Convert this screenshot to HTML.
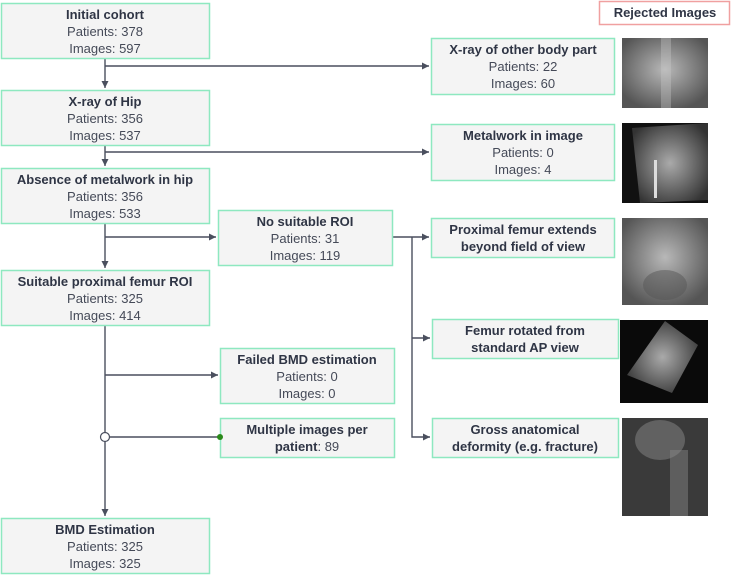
<!DOCTYPE html>
<html><head><meta charset="utf-8"><style>
body{margin:0;background:#fff;width:731px;height:575px;overflow:hidden}
svg{display:block}
text{font-family:"Liberation Sans",sans-serif;font-size:13px;fill:#454a58;text-anchor:middle}
.b{font-weight:bold;fill:#2f3545}
.bx{fill:#f4f4f4;stroke:#8ee8c0;stroke-width:1.5}
.ln{stroke:#4a4f5e;stroke-width:1.4;fill:none}
</style></head><body>
<svg width="731" height="575" viewBox="0 0 731 575">
<defs>
<marker id="a" markerWidth="6" markerHeight="6" refX="5" refY="3" orient="auto"><path d="M0,0.5 L5,3 L0,5.5z" fill="#4a4f5e"/></marker>
<radialGradient id="g1" cx="50%" cy="45%" r="60%"><stop offset="0" stop-color="#b8b8b8"/><stop offset="1" stop-color="#555"/></radialGradient>
<radialGradient id="g2" cx="50%" cy="50%" r="60%"><stop offset="0" stop-color="#aaa"/><stop offset="1" stop-color="#333"/></radialGradient>
</defs>
<path class="ln" d="M105 59 V88" marker-end="url(#a)"/>
<path class="ln" d="M105 66 H429" marker-end="url(#a)"/>
<path class="ln" d="M105 145 V166" marker-end="url(#a)"/>
<path class="ln" d="M105 152 H429" marker-end="url(#a)"/>
<path class="ln" d="M105 223 V268" marker-end="url(#a)"/>
<path class="ln" d="M105 237 H216" marker-end="url(#a)"/>
<path class="ln" d="M105 325 V516" marker-end="url(#a)"/>
<path class="ln" d="M105 375 H218" marker-end="url(#a)"/>
<path class="ln" d="M105 437 H218"/>
<circle cx="105" cy="437" r="4.5" fill="#fff" stroke="#4a4f5e" stroke-width="1.2"/>
<path class="ln" d="M392 237 H429" marker-end="url(#a)"/>
<path class="ln" d="M412 237 V437 H430" marker-end="url(#a)"/>
<path class="ln" d="M412 338 H430" marker-end="url(#a)"/>
<rect class="bx" x="1.5" y="3.5" width="208" height="55"/>
<text class="b" x="105" y="19">Initial cohort</text><text x="105" y="36">Patients: 378</text><text x="105" y="53">Images: 597</text>
<rect class="bx" x="1.5" y="90.5" width="208" height="55"/>
<text class="b" x="105" y="106">X-ray of Hip</text><text x="105" y="123">Patients: 356</text><text x="105" y="140">Images: 537</text>
<rect class="bx" x="1.5" y="168.5" width="208" height="55"/>
<text class="b" x="105" y="184">Absence of metalwork in hip</text><text x="105" y="201">Patients: 356</text><text x="105" y="218">Images: 533</text>
<rect class="bx" x="1.5" y="270.5" width="208" height="55"/>
<text class="b" x="105" y="286">Suitable proximal femur ROI</text><text x="105" y="303">Patients: 325</text><text x="105" y="320">Images: 414</text>
<rect class="bx" x="1.5" y="518.5" width="208" height="55"/>
<text class="b" x="105" y="534">BMD Estimation</text><text x="105" y="551">Patients: 325</text><text x="105" y="568">Images: 325</text>
<rect class="bx" x="218.5" y="210.5" width="174" height="55"/>
<text class="b" x="305" y="226">No suitable ROI</text><text x="305" y="243">Patients: 31</text><text x="305" y="260">Images: 119</text>
<rect class="bx" x="220.5" y="348.5" width="174" height="55"/>
<text class="b" x="307" y="364">Failed BMD estimation</text><text x="307" y="381">Patients: 0</text><text x="307" y="398">Images: 0</text>
<rect class="bx" x="220.5" y="418.5" width="174" height="39"/>
<text class="b" x="307" y="434">Multiple images per</text><text x="307" y="451"><tspan class="b">patient</tspan>: 89</text>
<circle cx="220" cy="437" r="3" fill="#2a8a1a"/>
<rect x="599.5" y="1.5" width="130" height="23" fill="#fff" stroke="#f0a0a0" stroke-width="1.5"/>
<text class="b" x="665" y="17">Rejected Images</text>
<rect class="bx" x="431.5" y="38.5" width="183" height="56"/>
<text class="b" x="523" y="54">X-ray of other body part</text><text x="523" y="71">Patients: 22</text><text x="523" y="88">Images: 60</text>
<rect class="bx" x="431.5" y="124.5" width="183" height="56"/>
<text class="b" x="523" y="140">Metalwork in image</text><text x="523" y="157">Patients: 0</text><text x="523" y="174">Images: 4</text>
<rect class="bx" x="431.5" y="218.5" width="183" height="39"/>
<text class="b" x="523" y="234">Proximal femur extends</text><text class="b" x="523" y="251">beyond field of view</text>
<rect class="bx" x="432.5" y="319.5" width="186" height="39"/>
<text class="b" x="525" y="335">Femur rotated from</text><text class="b" x="525" y="352">standard AP view</text>
<rect class="bx" x="432.5" y="418.5" width="186" height="39"/>
<text class="b" x="525" y="434">Gross anatomical</text><text class="b" x="525" y="451">deformity (e.g. fracture)</text>
<rect x="622" y="38" width="86" height="70" fill="url(#g1)"/>
<rect x="661" y="38" width="10" height="70" fill="#ccc" opacity=".35"/>
<rect x="622" y="123" width="86" height="80" fill="#111"/>
<polygon points="632,128 708,123 708,200 640,203" fill="url(#g2)"/>
<rect x="654" y="160" width="3" height="38" fill="#ddd"/>
<rect x="622" y="218" width="86" height="87" fill="url(#g1)"/>
<ellipse cx="665" cy="285" rx="22" ry="15" fill="#555" opacity=".5"/>
<rect x="620" y="320" width="88" height="83" fill="#0a0a0a"/>
<polygon points="665,321 698,345 672,393 627,375" fill="url(#g2)"/>
<rect x="622" y="418" width="86" height="98" fill="#3a3a3a"/>
<rect x="670" y="450" width="18" height="66" fill="#777" opacity=".6"/>
<ellipse cx="660" cy="440" rx="25" ry="20" fill="#888" opacity=".5"/>
</svg>
</body></html>
